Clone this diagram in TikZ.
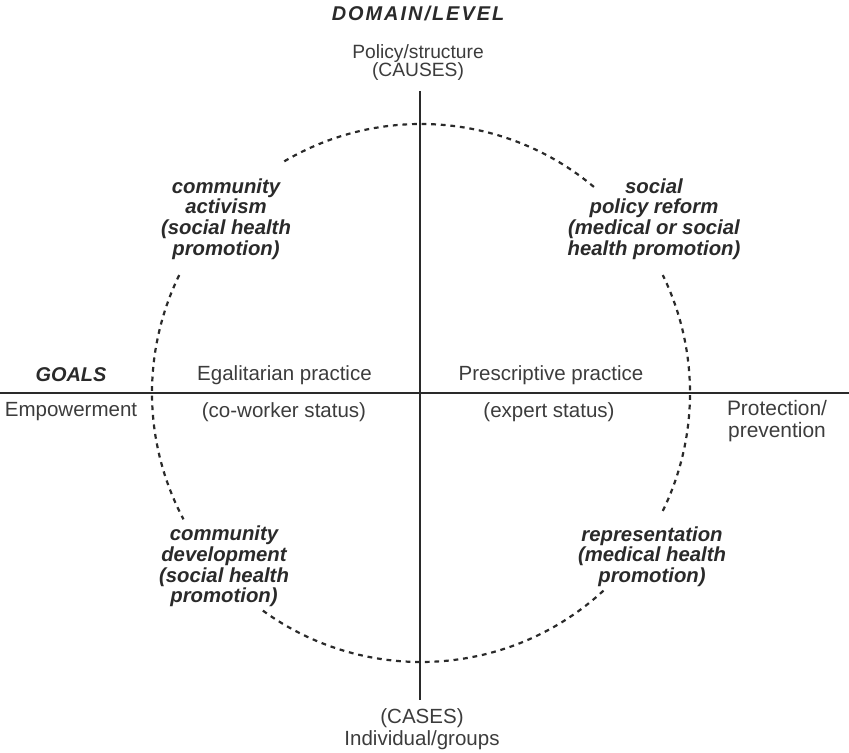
\documentclass[tikz,border=0pt]{standalone}
\usepackage{fontspec}
\setmainfont{Liberation Sans}
\newfontfamily\headfont[LetterSpace=10]{Liberation Sans}
\definecolor{ink}{HTML}{2A2A2A}
\definecolor{txt}{HTML}{3C3C3C}
\begin{document}
\begin{tikzpicture}[x=1bp,y=1bp,
  axisline/.style={draw=ink, line width=2.2bp},
  circline/.style={draw=ink, line width=2.2bp, dash pattern=on 4.8bp off 4.8bp},
  plain/.style={inner sep=0, text=txt, align=center, font=\fontsize{20.6}{20.6}\selectfont},
  emph/.style={inner sep=0, text=ink, align=center, font=\fontsize{20.4}{20.7}\selectfont\bfseries\itshape},
  head/.style={inner sep=0, text=ink, font=\fontsize{20}{20}\selectfont\headfont\bfseries\itshape},
  goalstyle/.style={inner sep=0, text=ink, font=\fontsize{20}{20}\selectfont\bfseries\itshape}]
\useasboundingbox (0,0) rectangle (849,753);
% axes
\coordinate (vtop) at (420,662);
\coordinate (vbot) at (420,53);
\coordinate (hl) at (0,360);
\coordinate (hr) at (849,360);
\coordinate (c) at (421,360);
\draw[axisline] (vtop) -- (vbot);
\draw[axisline] (hl) -- (hr);
% dashed circle with gaps for labels
\draw[circline] (c) ++(50:269) arc[start angle=50, end angle=121, radius=269];
\draw[circline] (c) ++(154:269) arc[start angle=154, end angle=208, radius=269];
\draw[circline] (c) ++(234:269) arc[start angle=234, end angle=313, radius=269];
\draw[circline] (c) ++(334:269) arc[start angle=334, end angle=386, radius=269];
% labels
\node[head] (domain) at (418,740) {DOMAIN/LEVEL};
\node[plain, font=\fontsize{19.3}{19}\selectfont] (policy) at (418,690.5) {Policy/structure\\(CAUSES)};
\node[plain, font=\fontsize{20.6}{22}\selectfont] (cases) at (422,24) {(CASES)\\Individual/groups};
\node[goalstyle] (goals) at (71,378) {GOALS};
\node[plain] (egal) at (284.5,378) {Egalitarian practice};
\node[plain] (presc) at (551,378) {Prescriptive practice};
\node[plain] (empow) at (71,341) {Empowerment};
\node[plain] (cowork) at (284,341) {(co-worker status)};
\node[plain] (expert) at (549,341) {(expert status)};
\node[plain, font=\fontsize{21}{22}\selectfont] (protect) at (777,332) {Protection/\\prevention};
\node[emph] (activism) at (226,534) {community\\activism\\(social health\\promotion)};
\node[emph] (reform) at (654,534) {social\\policy reform\\(medical or social\\health promotion)};
\node[emph] (develop) at (224,186.5) {community\\development\\(social health\\promotion)};
\node[emph] (repres) at (652,196.5) {representation\\(medical health\\promotion)};
\end{tikzpicture}
\end{document}
